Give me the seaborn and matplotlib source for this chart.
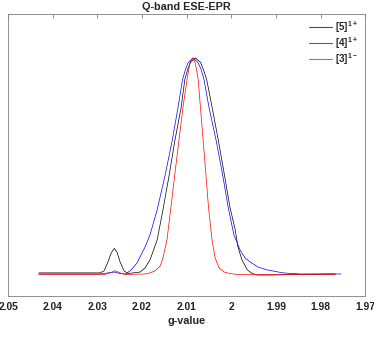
import numpy as np
import pandas as pd
import matplotlib
matplotlib.use("Agg")
import matplotlib.pyplot as plt
from matplotlib.lines import Line2D
import seaborn as sns

# Q-band ESE-EPR spectra, normalised intensity vs g-value
g_5 = [2.0431, 2.0294, 2.0285, 2.0276, 2.0269, 2.0262, 2.0256, 2.0249, 2.0240, 2.0231,
       2.0204, 2.0193, 2.0182, 2.0166, 2.0153, 2.0139, 2.0126, 2.0112, 2.0104, 2.0097,
       2.0091, 2.0080, 2.0069, 2.0063, 2.0055, 2.0043, 2.0029, 2.0016, 2.0003, 1.9991,
       1.9985, 1.9976, 1.9964, 1.9953, 1.9942, 1.9913, 1.9846, 1.9767]
int_5 = [0.005, 0.005, 0.014, 0.056, 0.097, 0.118, 0.102, 0.056, 0.014, 0.002,
         0.009, 0.028, 0.065, 0.157, 0.296, 0.458, 0.620, 0.773, 0.900, 0.950,
         0.980, 1.000, 0.980, 0.950, 0.900, 0.773, 0.620, 0.468, 0.310, 0.204,
         0.125, 0.065, 0.019, 0.002, -0.005, -0.005, -0.002, 0.000]

g_4 = [2.0431, 2.0294, 2.0276, 2.0262, 2.0249, 2.0236, 2.0224, 2.0211, 2.0193, 2.0182,
       2.0166, 2.0148, 2.0132, 2.0119, 2.0109, 2.0102, 2.0096, 2.0085, 2.0075, 2.0068,
       2.0061, 2.0050, 2.0034, 2.0020, 2.0007, 1.9994, 1.9980, 1.9969, 1.9958,
       1.9940, 1.9920, 1.9884, 1.9846, 1.9754]
int_4 = [0.000, 0.000, 0.005, 0.009, 0.002, 0.000, 0.019, 0.051, 0.125, 0.181,
         0.296, 0.458, 0.620, 0.773, 0.900, 0.950, 0.980, 1.000, 0.980, 0.950,
         0.900, 0.773, 0.620, 0.468, 0.310, 0.181, 0.110, 0.074, 0.056,
         0.032, 0.019, 0.005, 0.000, 0.000]

g_3 = [2.0431, 2.0283, 2.0271, 2.0260, 2.0249, 2.0238, 2.0193, 2.0182, 2.0171, 2.0159,
       2.0153, 2.0144, 2.0135, 2.0126, 2.0117, 2.0108, 2.0099, 2.0095, 2.0092, 2.0087,
       2.0081, 2.0078, 2.0074, 2.0069, 2.0063, 2.0057, 2.0051, 2.0043, 2.0036, 2.0027,
       2.0016, 2.0003, 1.9987, 1.9767]
int_3 = [-0.002, -0.002, 0.005, 0.015, 0.005, -0.002, 0.000, 0.005, 0.014, 0.037,
         0.074, 0.157, 0.310, 0.468, 0.620, 0.773, 0.900, 0.950, 0.980, 1.000,
         0.980, 0.950, 0.900, 0.773, 0.620, 0.468, 0.310, 0.157, 0.074, 0.028,
         0.009, 0.002, -0.002, -0.002]

labels = ['[5]$^{\\mathrm{1+}}$', '[4]$^{\\mathrm{1+}}$', '[3]$^{\\mathrm{1-}}$']
colors = ['black', 'blue', 'red']
tick_vals = [2.05, 2.04, 2.03, 2.02, 2.01, 2.00, 1.99, 1.98, 1.97]
tick_text = ['2.05', '2.04', '2.03', '2.02', '2.01', '2', '1.99', '1.98', '1.97']

frames = []
for lab, g, y in zip(labels, [g_5, g_4, g_3], [int_5, int_4, int_3]):
    frames.append(pd.DataFrame({'g': g, 'intensity': y, 'sample': lab}))
df = pd.concat(frames, ignore_index=True)

sns.set_style('white')
plt.rcParams['font.family'] = ['Liberation Sans', 'DejaVu Sans']
plt.rcParams['mathtext.fontset'] = 'custom'
plt.rcParams['mathtext.rm'] = 'Liberation Sans:bold'

fig = plt.figure(figsize=(3.74, 3.45), dpi=100)
ax = fig.add_axes([0.0214, 0.142, 0.955, 0.816])

sns.lineplot(data=df, x='g', y='intensity', hue='sample',
             palette=dict(zip(labels, colors)), sort=False, estimator=None,
             linewidth=0.5, legend=False, ax=ax)

ax.set_xlim(2.05, 1.97)
ax.set_ylim(-0.102, 1.201)
ax.set_xticks(tick_vals)
ax.set_xticklabels(tick_text, fontweight='bold')
ax.set_yticks([])
ax.tick_params(axis='x', direction='in', top=True, length=3, width=0.6,
               labelsize=7.4, pad=4, color='#7f7f7f', labelcolor='#222222')
for sp in ax.spines.values():
    sp.set_color('#7f7f7f')
    sp.set_linewidth(0.6)

ax.set_title('Q-band ESE-EPR', fontsize=7.8, fontweight='bold', pad=3)
ax.set_xlabel('g-value', fontsize=7.8, fontweight='bold', labelpad=3)
ax.set_ylabel('')

handles = [Line2D([], [], color=c, linewidth=0.8, alpha=0.7) for c in colors]
ax.legend(handles, labels, frameon=False, loc='upper left',
          bbox_to_anchor=(0.826, 0.945), bbox_transform=fig.transFigure,
          borderpad=0, borderaxespad=0, handlelength=2.4, handletextpad=0.3,
          labelspacing=0.02, prop={'weight': 'bold', 'size': 7})

fig.savefig('out.png', dpi=100)
